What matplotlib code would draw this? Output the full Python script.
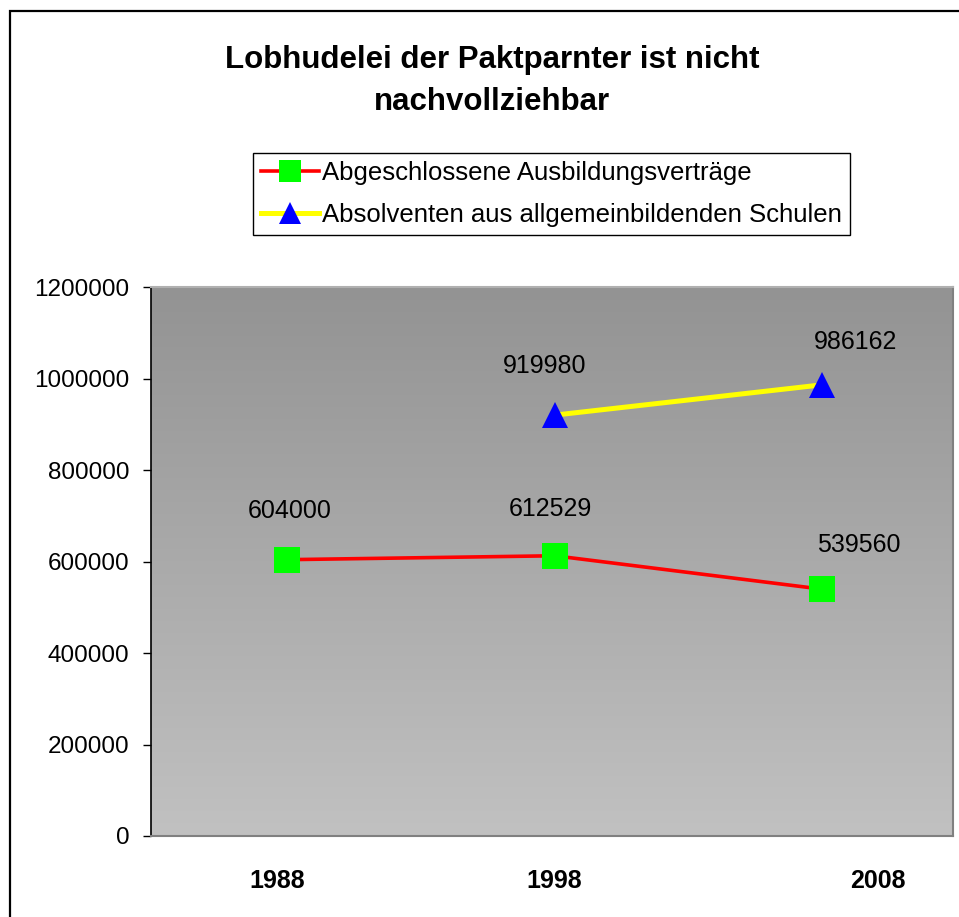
import numpy as np
from matplotlib import pyplot as plt
from matplotlib.lines import Line2D
from matplotlib.patches import Rectangle
import matplotlib.transforms as mtransforms

plt.rcParams['font.family'] = ['Liberation Sans', 'DejaVu Sans']

years = ['1988', '1998', '2008']
vertraege = [604000, 612529, 539560]
absolventen = [np.nan, 919980, 986162]
label_vertraege = 'Abgeschlossene Ausbildungsverträge'
label_absolventen = 'Absolventen aus allgemeinbildenden Schulen'
title = 'Lobhudelei der Paktparnter ist nicht\nnachvollziehbar'

W, H = 959, 917
fig = plt.figure(figsize=(W / 100, H / 100), dpi=100)
ax = fig.add_axes([151 / W, 1 - 836 / H, (953 - 151) / W, (836 - 287) / H])

x = np.arange(len(years))
ax.set_xlim(-0.51, 2.49)
ax.set_ylim(0, 1200000)

# gradient background of the plot area
grad = np.linspace(0, 1, 256).reshape(-1, 1)
top_c = np.array([0x93, 0x93, 0x93]) / 255
bot_c = np.array([0xc1, 0xc1, 0xc1]) / 255
img = top_c[None, None, :] * (1 - grad[:, :, None]) + bot_c[None, None, :] * grad[:, :, None]
ax.imshow(img, extent=[-0.51, 2.49, 0, 1200000], aspect='auto', origin='upper', zorder=0)

ax.plot(x, vertraege, color='red', lw=2.6, marker='s', markersize=18.5,
        markerfacecolor='#00ff00', markeredgewidth=0, zorder=3)
ax.plot(x, absolventen, color='yellow', lw=3.6, marker='^', markersize=19,
        markerfacecolor='blue', markeredgewidth=0, zorder=3)

# data labels (offsets in pixels -> points)
off_v = [(2, 49), (-4, 46.5), (36.5, 44)]
off_a = [(0, 0), (-10, 49), (34, 42.5)]
for i in range(len(years)):
    dx, dy = off_v[i]
    ax.annotate(str(vertraege[i]), (x[i], vertraege[i]), xytext=(dx * 0.72, dy * 0.72),
                textcoords='offset points', ha='center', va='center', fontsize=18)
    if not np.isnan(absolventen[i]):
        dx, dy = off_a[i]
        ax.annotate(str(int(absolventen[i])), (x[i], absolventen[i]), xytext=(dx * 0.72, dy * 0.72),
                    textcoords='offset points', ha='center', va='center', fontsize=18)

ax.set_yticks(np.arange(0, 1200001, 200000))
ax.set_yticklabels([str(v) for v in range(0, 1200001, 200000)], fontsize=17.5)
ax.tick_params(axis='y', direction='out', length=6, width=1, color='black', pad=9.4)
ax.set_xticks(x)
ax.set_xticklabels(years, fontsize=18, fontweight='bold')
ax.tick_params(axis='x', length=0, pad=24)
shifts = [-10, 0, 56]
for lab, s in zip(ax.get_xticklabels(), shifts):
    lab.set_transform(lab.get_transform() + mtransforms.ScaledTranslation(s / 100, 0, fig.dpi_scale_trans))

for side in ['top', 'right', 'bottom']:
    ax.spines[side].set_color('#808080')
    ax.spines[side].set_linewidth(1.5)
ax.spines['top'].set_color('#b0b0b0')
ax.spines['left'].set_color('black')
ax.spines['left'].set_linewidth(1.2)

fig.text(492 / W, 1 - 81 / H, title, ha='center', va='center', fontsize=22.5,
         fontweight='bold', linespacing=1.5)

handles = [Line2D([0], [0], color='red', lw=2.6, marker='s', markersize=16,
                  markerfacecolor='#00ff00', markeredgewidth=0),
           Line2D([0], [0], color='yellow', lw=3.6, marker='^', markersize=16,
                  markerfacecolor='blue', markeredgewidth=0)]
leg = fig.legend(handles, [label_vertraege, label_absolventen], loc='upper left',
                 bbox_to_anchor=(253 / W, 1 - 153 / H), borderaxespad=0, fontsize=18.5,
                 fancybox=False, edgecolor='black', framealpha=1, borderpad=0.32,
                 handlelength=2.25, handletextpad=0.12, labelspacing=0.68)
leg.get_frame().set_linewidth(1)

# outer chart border
fig.patches.append(Rectangle((9.5 / W, -0.1), 1.2, 1.1 - 11 / H, transform=fig.transFigure,
                             fill=False, edgecolor='black', lw=1.6))

fig.savefig('out.png', dpi=100)
